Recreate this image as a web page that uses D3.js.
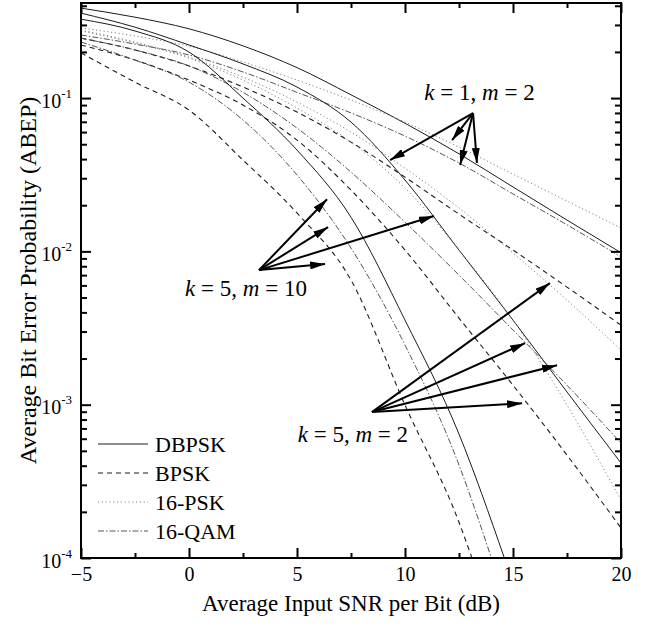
<!DOCTYPE html>
<html>
<head>
<meta charset="utf-8">
<script src="https://cdn.jsdelivr.net/npm/d3@7"></script>
<style>
  body { margin: 0; background: #fff; }
  svg { font-family: "Liberation Serif", "Times New Roman", serif; }
</style>
</head>
<body>
<div id="chart"></div>
<script>
// SNR grid (dB)
var snr = [-5, -2.5, 0, 2.5, 5, 7.5, 10, 12.5, 15, 17.5, 20];

// k = 1, m = 2
var dbpskK1M2 = [0.386, 0.337, 0.283, 0.219, 0.158, 0.105, 0.0685, 0.0433, 0.0263, 0.0160, 0.0098];
var bpskK1M2 = [0.246, 0.206, 0.162, 0.118, 0.081, 0.0516, 0.0305, 0.0175, 0.0102, 0.00585, 0.0033];
var psk16K1M2 = [0.287, 0.254, 0.218, 0.172, 0.131, 0.097, 0.0697, 0.0479, 0.0319, 0.0213, 0.0142];
var qam16K1M2 = [0.258, 0.225, 0.191, 0.148, 0.109, 0.080, 0.0565, 0.0377, 0.0237, 0.0149, 0.0092];

// k = 5, m = 2
var dbpskK5M2 = [0.358, 0.290, 0.222, 0.167, 0.118, 0.0697, 0.0292, 0.0102, 0.00356, 0.00121, 0.000416];
var bpskK5M2 = [0.222, 0.177, 0.131, 0.090, 0.0532, 0.0251, 0.0102, 0.00367, 0.00134, 0.000469, 0.000157];
var psk16K5M2 = [0.278, 0.232, 0.185, 0.137, 0.0942, 0.060, 0.0349, 0.0192, 0.00975, 0.00481, 0.00227];
var qam16K5M2 = [0.246, 0.206, 0.162, 0.109, 0.0637, 0.0329, 0.0155, 0.0070, 0.00307, 0.00134, 0.000562];

// k = 5, m = 10 (the steep ones end where they leave the plot)
var snrDbpskK5M10 = [-5, -2.5, 0, 2.5, 5, 7.5, 10, 12.5, 14.6];
var dbpskK5M10 = [0.327, 0.274, 0.1995, 0.100, 0.0458, 0.0167, 0.00356, 0.000643, 0.0001];
var snrBpskK5M10 = [-5, -2.5, 0, 2.5, 5, 7.5, 10, 12.5, 13.1];
var bpskK5M10 = [0.197, 0.127, 0.0835, 0.0394, 0.0178, 0.0065, 0.000994, 0.000171, 0.0001];
var psk16K5M10 = [0.274, 0.2285, 0.1824, 0.131, 0.0861, 0.0516, 0.0259, 0.0102, 0.00356, 0.000994, 0.000239];
var snrQam16K5M10 = [-5, -2.5, 0, 2.5, 5, 7.5, 10, 12.5, 14.0];
var qam16K5M10 = [0.232, 0.177, 0.127, 0.0719, 0.0315, 0.0105, 0.00245, 0.000404, 0.0001];

var xTicks = [-5, 0, 5, 10, 15, 20];
var xMinorTicks = [-2.5, 2.5, 7.5, 12.5, 17.5];
var yTicks = [1e-4, 1e-3, 1e-2, 1e-1];
var yTickExp = ["-4", "-3", "-2", "-1"];
var legendLabels = ["DBPSK", "BPSK", "16-PSK", "16-QAM"];

// annotation arrows: [snr, ber]
var arrowK1M2From = [13.15, 0.0798];
var arrowK1M2To = [[9.31, 0.0394], [12.18, 0.0532], [12.55, 0.0366], [13.33, 0.0377]];
var arrowK5M10From = [3.24, 0.00755];
var arrowK5M10To = [[6.39, 0.0219], [6.44, 0.0144], [6.30, 0.00826], [11.34, 0.0170]];
var arrowK5M2From = [8.47, 0.000895];
var arrowK5M2To = [[16.71, 0.00621], [15.56, 0.00252], [17.04, 0.00181], [15.42, 0.00102]];

var labelK1M2 = [13.45, 0.097];
var labelK5M10 = [2.64, 0.00511];
var labelK5M2 = [7.59, 0.00057];

var styles = {
    "DBPSK": { dash: null, color: "#1c1c1c", w: 1.0 },
    "BPSK": { dash: "5,4", color: "#1c1c1c", w: 1.1 },
    "16-PSK": { dash: "1.2,2.6", color: "#808080", w: 1.0 },
    "16-QAM": { dash: "6,2,1.5,2", color: "#555", w: 1.0 }
};

var series = [
    { mod: "DBPSK", x: snr, y: dbpskK1M2 },
    { mod: "BPSK", x: snr, y: bpskK1M2 },
    { mod: "16-PSK", x: snr, y: psk16K1M2 },
    { mod: "16-QAM", x: snr, y: qam16K1M2 },
    { mod: "DBPSK", x: snr, y: dbpskK5M2 },
    { mod: "BPSK", x: snr, y: bpskK5M2 },
    { mod: "16-PSK", x: snr, y: psk16K5M2 },
    { mod: "16-QAM", x: snr, y: qam16K5M2 },
    { mod: "DBPSK", x: snrDbpskK5M10, y: dbpskK5M10 },
    { mod: "BPSK", x: snrBpskK5M10, y: bpskK5M10 },
    { mod: "16-PSK", x: snr, y: psk16K5M10 },
    { mod: "16-QAM", x: snrQam16K5M10, y: qam16K5M10 }
];

var margin = { top: 3, right: 33, bottom: 68, left: 81 },
    width = 654 - margin.left - margin.right,
    height = 626 - margin.top - margin.bottom;

var svg = d3.select("#chart")
    .append("svg")
    .attr("width", 654)
    .attr("height", 626);

var defs = svg.append("defs");
defs.append("clipPath").attr("id", "clip")
    .append("rect").attr("width", width).attr("height", height);
defs.append("marker")
    .attr("id", "arrow")
    .attr("viewBox", "0 0 15 8")
    .attr("refX", 15).attr("refY", 4)
    .attr("markerWidth", 15).attr("markerHeight", 8)
    .attr("markerUnits", "userSpaceOnUse")
    .attr("orient", "auto")
    .append("path").attr("d", "M0,0L15,4L0,8Z").attr("fill", "#000");

var g = svg.append("g")
    .attr("transform", "translate(" + margin.left + "," + margin.top + ")");

var x = d3.scaleLinear().domain([-5, 20]).range([0, width]);
var y = d3.scaleLog().domain([1e-4, 0.417]).range([height, 0]);

var yMinorTicks = [];
[1e-4, 1e-3, 1e-2, 1e-1].forEach(function (d) {
    for (var k = 2; k <= 9; k++) if (d * k < 0.417) yMinorTicks.push(d * k);
});

// curves
var line = d3.line()
    .x(function (d) { return x(d[0]); })
    .y(function (d) { return y(d[1]); })
    .curve(d3.curveMonotoneX);

g.append("g").attr("clip-path", "url(#clip)")
    .selectAll("path")
    .data(series)
    .enter()
    .append("path")
    .attr("d", function (s) { return line(s.x.map(function (v, i) { return [v, s.y[i]]; })); })
    .attr("fill", "none")
    .attr("stroke", function (s) { return styles[s.mod].color; })
    .attr("stroke-width", function (s) { return styles[s.mod].w; })
    .attr("stroke-dasharray", function (s) { return styles[s.mod].dash; });

// axes, ticks pointing inward on all four sides
function styleAxis(sel) {
    sel.select(".domain").remove();
    sel.selectAll("line").attr("stroke", "#000").attr("stroke-width", 2);
}

g.append("g").attr("transform", "translate(0," + height + ")")
    .call(d3.axisBottom(x).tickValues(xTicks).tickSize(-10).tickPadding(9).tickFormat(d3.format("d")))
    .call(styleAxis)
    .selectAll("text").attr("font-size", 20).attr("font-family", "Liberation Serif").attr("fill", "#000");
g.append("g").attr("transform", "translate(0," + height + ")")
    .call(d3.axisBottom(x).tickValues(xMinorTicks).tickSize(-5).tickFormat(""))
    .call(styleAxis);
g.append("g")
    .call(d3.axisTop(x).tickValues(xTicks).tickSize(-10).tickFormat(""))
    .call(styleAxis);
g.append("g")
    .call(d3.axisTop(x).tickValues(xMinorTicks).tickSize(-5).tickFormat(""))
    .call(styleAxis);

var yAxis = g.append("g")
    .call(d3.axisLeft(y).tickValues(yTicks).tickSize(-10).tickPadding(9))
    .call(styleAxis);
yAxis.selectAll("text")
    .attr("font-size", 20).attr("font-family", "Liberation Serif").attr("fill", "#000")
    .attr("dy", "0.45em")
    .text("10")
    .append("tspan")
    .attr("font-size", 13)
    .attr("dy", "-0.75em")
    .text(function (d, i) { return yTickExp[i]; });
g.append("g")
    .call(d3.axisLeft(y).tickValues(yMinorTicks).tickSize(-6).tickFormat(""))
    .call(styleAxis);
g.append("g").attr("transform", "translate(" + width + ",0)")
    .call(d3.axisRight(y).tickValues(yTicks).tickSize(-10).tickFormat(""))
    .call(styleAxis);
g.append("g").attr("transform", "translate(" + width + ",0)")
    .call(d3.axisRight(y).tickValues(yMinorTicks).tickSize(-6).tickFormat(""))
    .call(styleAxis);

g.append("rect")
    .attr("width", width).attr("height", height)
    .attr("fill", "none").attr("stroke", "#000").attr("stroke-width", 2);

// axis titles
svg.append("text")
    .attr("x", margin.left + width / 2)
    .attr("y", 611)
    .attr("text-anchor", "middle")
    .attr("font-size", 23)
    .text("Average Input SNR per Bit (dB)");
svg.append("text")
    .attr("transform", "translate(36," + (margin.top + height / 2) + ")rotate(-90)")
    .attr("text-anchor", "middle")
    .attr("font-size", 24)
    .text("Average Bit Error Probability (ABEP)");

// arrows
var arrows = [
    { from: arrowK1M2From, to: arrowK1M2To },
    { from: arrowK5M10From, to: arrowK5M10To },
    { from: arrowK5M2From, to: arrowK5M2To }
];
arrows.forEach(function (a) {
    g.selectAll(null)
        .data(a.to)
        .enter()
        .append("line")
        .attr("x1", x(a.from[0])).attr("y1", y(a.from[1]))
        .attr("x2", function (d) { return x(d[0]); })
        .attr("y2", function (d) { return y(d[1]); })
        .attr("stroke", "#000")
        .attr("stroke-width", 2)
        .attr("marker-end", "url(#arrow)");
});

// k, m labels
function kmLabel(pos, kVal, mVal) {
    var t = g.append("text")
        .attr("x", x(pos[0])).attr("y", y(pos[1]))
        .attr("text-anchor", "middle")
        .attr("font-size", 23);
    t.append("tspan").attr("font-style", "italic").text("k");
    t.append("tspan").text(" = " + kVal + ", ");
    t.append("tspan").attr("font-style", "italic").text("m");
    t.append("tspan").text(" = " + mVal);
}
kmLabel(labelK1M2, 1, 2);
kmLabel(labelK5M10, 5, 10);
kmLabel(labelK5M2, 5, 2);

// legend
var legend = g.append("g").attr("transform", "translate(17,441)");
var rows = legend.selectAll("g")
    .data(legendLabels)
    .enter()
    .append("g")
    .attr("transform", function (d, i) { return "translate(0," + (i * 29) + ")"; });
rows.append("line")
    .attr("x1", 0).attr("x2", 50)
    .attr("stroke", function (d) { return styles[d].color; })
    .attr("stroke-width", function (d) { return styles[d].w; })
    .attr("stroke-dasharray", function (d) { return styles[d].dash; });
rows.append("text")
    .attr("x", 57)
    .attr("dy", "0.35em")
    .attr("font-size", 22)
    .text(function (d) { return d; });
</script>
</body>
</html>
